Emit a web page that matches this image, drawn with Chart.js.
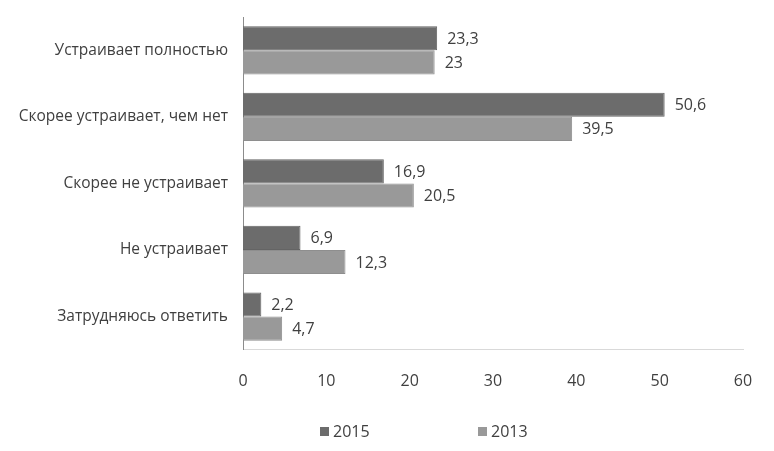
<!DOCTYPE html>
<html>
<head>
<meta charset="utf-8">
<script src="https://cdn.jsdelivr.net/npm/chart.js@4/dist/chart.umd.min.js"></script>
<style>
  body { margin: 0; background: #fff; }
  #wrap { width: 774px; height: 451px; }
</style>
</head>
<body>
<div id="wrap"><canvas id="myChart"></canvas></div>
<script>
// chart data
var categories = ['Устраивает полностью', 'Скорее устраивает, чем нет', 'Скорее не устраивает', 'Не устраивает', 'Затрудняюсь ответить'];
var values2015 = [23.3, 50.6, 16.9, 6.9, 2.2];
var values2013 = [23, 39.5, 20.5, 12.3, 4.7];
var seriesNames = ['2015', '2013'];
var xTicks = [0, 10, 20, 30, 40, 50, 60];

var fontFamily = '"Open Sans", sans-serif';

// draw value labels next to bars
var barLabels = {
    id: 'barLabels',
    afterDatasetsDraw: function(chart) {
        var ctx = chart.ctx;
        ctx.save();
        ctx.font = '16px ' + fontFamily;
        ctx.fillStyle = '#404040';
        ctx.textAlign = 'left';
        ctx.textBaseline = 'middle';
        chart.data.datasets.forEach(function(ds, i) {
            chart.getDatasetMeta(i).data.forEach(function(bar, j) {
                var txt = String(ds.data[j]).replace('.', ',');
                ctx.fillText(txt, bar.x + 10, bar.y + 1);
            });
        });
        ctx.restore();
    }
};

// simple legend under the axis, items spread apart like the original
var bottomLegend = {
    id: 'bottomLegend',
    afterDraw: function(chart) {
        var ctx = chart.ctx;
        var positions = [320, 478];
        var y = 432;
        ctx.save();
        ctx.font = '16px ' + fontFamily;
        ctx.textBaseline = 'middle';
        ctx.textAlign = 'left';
        chart.data.datasets.forEach(function(ds, i) {
            ctx.fillStyle = ds.backgroundColor;
            ctx.fillRect(positions[i], y - 5, 9, 9);
            ctx.fillStyle = '#404040';
            ctx.fillText(ds.label, positions[i] + 13, y);
        });
        ctx.restore();
    }
};

var ctx = document.getElementById('myChart').getContext('2d');

var myChart = new Chart(ctx, {
    type: 'bar',
    data: {
        labels: categories,
        datasets: [{
            label: seriesNames[0],
            data: values2015,
            backgroundColor: '#6c6c6c',
            borderColor: '#646464',
            borderWidth: 1,
            categoryPercentage: 0.725,
            barPercentage: 1
        }, {
            label: seriesNames[1],
            data: values2013,
            backgroundColor: '#999999',
            borderColor: '#8e8e8e',
            borderWidth: 1,
            categoryPercentage: 0.725,
            barPercentage: 1
        }]
    },
    options: {
        indexAxis: 'y',
        responsive: true,
        maintainAspectRatio: false,
        animation: false,
        layout: {
            padding: { left: 0, right: 31, top: 17, bottom: 46 }
        },
        scales: {
            x: {
                min: 0,
                max: 60,
                afterBuildTicks: function(axis) {
                    axis.ticks = xTicks.map(function(v) { return { value: v }; });
                },
                grid: { display: false },
                border: { display: true, color: '#d9d9d9' },
                ticks: {
                    color: '#404040',
                    font: { size: 16, family: fontFamily },
                    padding: 14
                }
            },
            y: {
                afterFit: function(axis) { axis.width = 243; },
                grid: { display: false },
                border: { display: true, color: '#8c8c8c' },
                ticks: {
                    color: '#404040',
                    font: { size: 15.5, family: fontFamily },
                    padding: 7
                }
            }
        },
        plugins: {
            tooltip: { enabled: false },
            legend: { display: false }
        }
    },
    plugins: [barLabels, bottomLegend]
});
</script>
</body>
</html>
